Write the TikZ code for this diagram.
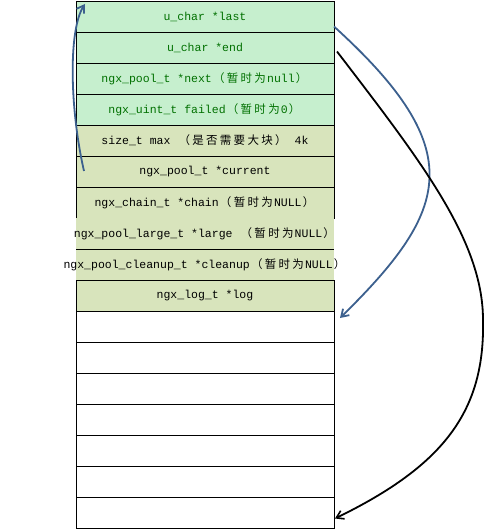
\documentclass[tikz,border=0pt]{standalone}
\usepackage{fontspec}
\setmonofont{Liberation Mono}
\newfontfamily\cjk{Noto Sans CJK SC}
\usetikzlibrary{arrows.meta}
\definecolor{rowgreen}{RGB}{198,239,206}
\definecolor{rowolive}{RGB}{216,228,188}
\definecolor{txtgreen}{RGB}{0,112,0}
\definecolor{arrblue}{RGB}{60,96,142}
\newcommand\zh[1]{\makebox[1.2em]{\cjk #1}}
\newcommand\cellt[1]{\raisebox{-3bp}{\makebox[0pt]{#1}}}
\tikzset{
  cell/.style={minimum width=258bp, minimum height=31bp, inner sep=0pt, outer sep=0pt,
    font=\fontsize{11.5bp}{13bp}\ttfamily, anchor=north},
  boxed/.style={cell, draw=black, line width=0.9bp},
  greenrow/.style={boxed, fill=rowgreen, text=txtgreen},
  oliverow/.style={boxed, fill=rowolive},
  openrow/.style={cell, fill=rowolive},
  emptyrow/.style={boxed, fill=white},
  bluearrow/.style={draw=arrblue, line width=1.8bp, -{Straight Barb[length=7bp,width=9bp,line width=1.8bp]}},
  blackarrow/.style={draw=black, line width=1.8bp, -{Straight Barb[length=7bp,width=9bp,line width=1.6bp]}}
}
\begin{document}
\begin{tikzpicture}[x=1bp,y=-1bp]
\useasboundingbox[fill=white] (0,0) rectangle (498,531);
\node[greenrow] (r1) at (205,1) {\cellt{u\_char *last}};
\node[greenrow] (r2) at (205,32) {\cellt{u\_char *end}};
\node[greenrow] (r3) at (205,63) {\cellt{ngx\_pool\_t *next\zh{（}\zh{暂}\zh{时}\zh{为}null\zh{）}}};
\node[greenrow] (r4) at (205,94) {\cellt{ngx\_uint\_t failed\zh{（}\zh{暂}\zh{时}\zh{为}0\zh{）}}};
\node[oliverow] (r5) at (205,125) {\cellt{size\_t max \zh{（}\zh{是}\zh{否}\zh{需}\zh{要}\zh{大}\zh{块}\zh{）} 4k}};
\node[oliverow] (r6) at (205,156) {\cellt{ngx\_pool\_t *current}};
\node[oliverow] (r7) at (205,187) {\cellt{ngx\_chain\_t *chain\zh{（}\zh{暂}\zh{时}\zh{为}NULL\zh{）}}};
\node[openrow] (r8) at (205,218) {\cellt{ngx\_pool\_large\_t *large \zh{（}\zh{暂}\zh{时}\zh{为}NULL\zh{）}}};
\node[openrow] (r9) at (205,249) {\cellt{ngx\_pool\_cleanup\_t *cleanup\zh{（}\zh{暂}\zh{时}\zh{为}NULL\zh{）}}};
\node[oliverow] (r10) at (205,280) {\cellt{ngx\_log\_t *log}};
\draw[line width=0.9bp] (r8.south west) -- (r8.south east);
\foreach \i [evaluate=\i as \yy using {311+31*(\i-11)}] in {11,...,17}
  \node[emptyrow] (r\i) at (205,\yy) {};
% connector end points
\coordinate (a1s) at ([xshift=8bp,yshift=-15bp]r6.north west);
\coordinate (a1e) at ([xshift=9bp,yshift=-3bp]r1.north west);
\coordinate (a2s) at ([yshift=-10bp]r1.east);
\coordinate (a2e) at ([xshift=6bp,yshift=-7bp]r11.north east);
\coordinate (a3s) at ([xshift=3bp,yshift=-4bp]r2.east);
\coordinate (a3e) at ([xshift=1bp,yshift=-6bp]r17.east);
\draw[bluearrow] (a1s) .. controls (70,110) and (68,30) .. (a1e);
\draw[bluearrow] (a2s) .. controls (470,150) and (450,210) .. (a2e);
\draw[blackarrow] (a3s) .. controls (420,160) and (483,240) .. (483,320)
  .. controls (485,410) and (445,465) .. (a3e);
\end{tikzpicture}
\end{document}
